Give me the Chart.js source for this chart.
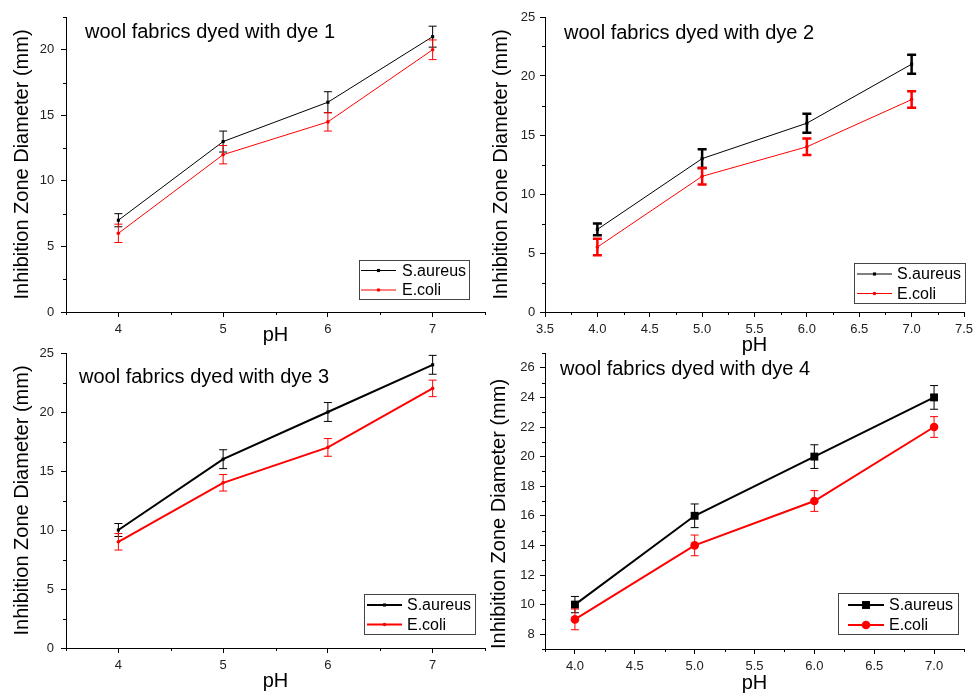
<!DOCTYPE html>
<html>
<head>
<meta charset="utf-8">
<script src="https://cdn.jsdelivr.net/npm/chart.js@4.4.1/dist/chart.umd.min.js"></script>
<style>
body { margin: 0; background: #fff; }
#wrap { position: relative; width: 974px; height: 693px; }
canvas { position: absolute; left: 0; top: 0; }
</style>
</head>
<body>
<div id="wrap">
<canvas id="c1" width="974" height="693"></canvas>
<canvas id="c2" width="974" height="693"></canvas>
<canvas id="c3" width="974" height="693"></canvas>
<canvas id="c4" width="974" height="693"></canvas>
</div>
<script>
var FONT = 'Arial, "Liberation Sans", sans-serif';

// data
var phValues = [4, 5, 6, 7];
var seriesNames = ["S.aureus", "E.coli"];
var panelTitles = ["wool fabrics dyed with dye 1", "wool fabrics dyed with dye 2",
                   "wool fabrics dyed with dye 3", "wool fabrics dyed with dye 4"];
var yTitle = "Inhibition Zone Diameter (mm)";
var xTitle = "pH";

var dye1Aureus = [7, 13, 16, 21];
var dye1AureusErr = [0.5, 0.8, 0.8, 0.8];
var dye1Coli = [6, 12, 14.5, 20];
var dye1ColiErr = [0.7, 0.7, 0.7, 0.75];

var dye2Aureus = [7, 13, 16, 21];
var dye2AureusErr = [0.5, 0.8, 0.8, 0.8];
var dye2Coli = [5.5, 11.5, 14, 18];
var dye2ColiErr = [0.7, 0.7, 0.7, 0.7];

var dye3Aureus = [10, 16, 20, 24];
var dye3AureusErr = [0.55, 0.8, 0.8, 0.8];
var dye3Coli = [9, 14, 17, 22];
var dye3ColiErr = [0.7, 0.7, 0.75, 0.7];

var dye4Aureus = [10, 16, 20, 24];
var dye4AureusErr = [0.55, 0.8, 0.8, 0.8];
var dye4Coli = [9, 14, 17, 22];
var dye4ColiErr = [0.7, 0.7, 0.7, 0.7];

// tick labels
var xTicksInt = [4, 5, 6, 7];
var xTicksHalf = [3.5, 4.0, 4.5, 5.0, 5.5, 6.0, 6.5, 7.0, 7.5];
var xTicksDye4 = [4.0, 4.5, 5.0, 5.5, 6.0, 6.5, 7.0];
var yTicksDye1 = [0, 5, 10, 15, 20];
var yTicks25 = [0, 5, 10, 15, 20, 25];
var yTicksDye4 = [8, 10, 12, 14, 16, 18, 20, 22, 24, 26];

var panels = [
  { id: "c1", title: panelTitles[0], area: [66, 17, 485, 312],
    xMin: 3.5, xMax: 7.5, xTicks: xTicksInt, xDec: 0, xMinor: 0.5,
    yMin: 0, yMax: 22.5, yTicks: yTicksDye1, yMinor: 2.5,
    aureus: dye1Aureus, aureusErr: dye1AureusErr, coli: dye1Coli, coliErr: dye1ColiErr,
    lineW: 1, errW: 1, cap: 4, sqR: 2.2, ciR: 1.8,
    titleAt: [85, 37.5], yTitleX: 22.8, yAlign: "center", phY: 335, yPad: 6.7, xPad: 5,
    legend: { box: [359, 260, 469, 299], line: [361, 396], text: 402, rows: [270.5, 290] } },
  { id: "c2", title: panelTitles[1], area: [545, 17, 964, 312],
    xMin: 3.5, xMax: 7.5, xTicks: xTicksHalf, xDec: 1, xMinor: 0.25,
    yMin: 0, yMax: 25, yTicks: yTicks25, yMinor: 2.5,
    aureus: dye2Aureus, aureusErr: dye2AureusErr, coli: dye2Coli, coliErr: dye2ColiErr,
    lineW: 1, errW: 2.5, cap: 4.5, sqR: 2.2, ciR: 1.8,
    titleAt: [564, 39], yTitleX: 501.7, yAlign: "center", phY: 345, yPad: 4.7, xPad: 5,
    legend: { box: [854, 263, 965, 303], line: [857, 892], text: 897, rows: [274, 293.5] } },
  { id: "c3", title: panelTitles[2], area: [66, 353, 485, 648],
    xMin: 3.5, xMax: 7.5, xTicks: xTicksInt, xDec: 0, xMinor: 0.5,
    yMin: 0, yMax: 25, yTicks: yTicks25, yMinor: 2.5,
    aureus: dye3Aureus, aureusErr: dye3AureusErr, coli: dye3Coli, coliErr: dye3ColiErr,
    lineW: 2, errW: 1, cap: 4, sqR: 2.2, ciR: 1.8,
    titleAt: [79, 382.5], yTitleX: 22.8, yAlign: "center", phY: 681.7, yPad: 7, xPad: 5,
    legend: { box: [364, 594, 475, 634], line: [367, 402], text: 407, rows: [605, 624.5] } },
  { id: "c4", title: panelTitles[3], area: [545, 353, 964, 649],
    xMin: 3.75, xMax: 7.25, xTicks: xTicksDye4, xDec: 1, xMinor: 0.25,
    yMin: 7, yMax: 27, yTicks: yTicksDye4, yMinor: 1,
    aureus: dye4Aureus, aureusErr: dye4AureusErr, coli: dye4Coli, coliErr: dye4ColiErr,
    lineW: 2, errW: 1, cap: 4, sqR: 5.6, ciR: 4.3,
    titleAt: [560, 375], yTitleX: 499.5, yAlign: "start", phY: 683.3, yPad: 5.3, xPad: 5,
    legend: { box: [838, 593, 958, 634], line: [848, 884], text: 889, rows: [605, 625] } }
];

function points(ys) {
  return phValues.map(function(x, i) { return { x: x, y: ys[i] }; });
}

// error bars drawn from the y scale
var errorBars = {
  id: "errorBars",
  afterDatasetsDraw: function(chart, args, opts) {
    var ctx = chart.ctx, ys = chart.scales.y;
    chart.data.datasets.forEach(function(ds, i) {
      var meta = chart.getDatasetMeta(i);
      ctx.save();
      ctx.strokeStyle = ds.borderColor;
      ctx.lineWidth = opts.width;
      meta.data.forEach(function(pt, j) {
        var v = ds.data[j].y, e = ds.errors[j];
        var top = ys.getPixelForValue(v + e), bot = ys.getPixelForValue(v - e);
        var x = pt.x;
        ctx.beginPath();
        ctx.moveTo(x, top); ctx.lineTo(x, bot);
        ctx.moveTo(x - opts.cap, top); ctx.lineTo(x + opts.cap, top);
        ctx.moveTo(x - opts.cap, bot); ctx.lineTo(x + opts.cap, bot);
        ctx.stroke();
      });
      ctx.restore();
    });
  }
};

// minor ticks, inner title and boxed legend
var decor = {
  id: "decor",
  afterDraw: function(chart, args, p) {
    var ctx = chart.ctx, xs = chart.scales.x, ys = chart.scales.y, a = chart.chartArea;
    ctx.save();
    ctx.strokeStyle = "#000";
    ctx.lineWidth = 1;
    ctx.beginPath();
    for (var v = p.xMin; v <= p.xMax + 1e-9; v += p.xMinor) {
      if (p.xTicks.some(function(t) { return Math.abs(t - v) < 1e-6; })) continue;
      var px = Math.round(xs.getPixelForValue(v)) + 0.5;
      ctx.moveTo(px, a.bottom); ctx.lineTo(px, a.bottom + 3);
    }
    for (var w = p.yMin; w <= p.yMax + 1e-9; w += p.yMinor) {
      if (p.yTicks.some(function(t) { return Math.abs(t - w) < 1e-6; })) continue;
      var py = Math.round(ys.getPixelForValue(w)) + 0.5;
      ctx.moveTo(a.left, py); ctx.lineTo(a.left - 3, py);
    }
    ctx.stroke();

    ctx.fillStyle = "#000";
    ctx.font = "20px " + FONT;
    ctx.textBaseline = "alphabetic";
    ctx.textAlign = "left";
    ctx.fillText(p.title, p.titleAt[0], p.titleAt[1]);

    var L = p.legend, b = L.box;
    ctx.strokeStyle = "#444";
    ctx.strokeRect(b[0] + 0.5, b[1] + 0.5, b[2] - b[0], b[3] - b[1]);
    ctx.font = "16px " + FONT;
    ctx.textBaseline = "middle";
    chart.data.datasets.forEach(function(ds, i) {
      var y = L.rows[i], mid = (L.line[0] + L.line[1]) / 2;
      ctx.strokeStyle = ds.borderColor;
      ctx.lineWidth = p.lineW;
      ctx.beginPath();
      ctx.moveTo(L.line[0], y); ctx.lineTo(L.line[1], y);
      ctx.stroke();
      ctx.fillStyle = ds.borderColor;
      if (i === 0) {
        var s = p.sqR * Math.SQRT1_2;
        ctx.fillRect(mid - s, y - s, 2 * s, 2 * s);
      } else {
        ctx.beginPath();
        ctx.arc(mid, y, p.ciR, 0, Math.PI * 2);
        ctx.fill();
      }
      ctx.fillStyle = "#000";
      ctx.fillText(ds.label, L.text, y + 1);
    });
    ctx.restore();
  }
};

function makePanel(p) {
  var a = p.area;
  new Chart(document.getElementById(p.id), {
    type: "line",
    data: {
      datasets: [{
        label: seriesNames[0],
        data: points(p.aureus),
        errors: p.aureusErr,
        borderColor: "#000000",
        backgroundColor: "#000000",
        borderWidth: p.lineW,
        pointStyle: "rect",
        pointRadius: p.sqR,
        pointBorderWidth: 0,
        pointBackgroundColor: "#000000",
        tension: 0
      }, {
        label: seriesNames[1],
        data: points(p.coli),
        errors: p.coliErr,
        borderColor: "#ff0000",
        backgroundColor: "#ff0000",
        borderWidth: p.lineW,
        pointStyle: "circle",
        pointRadius: p.ciR,
        pointBorderWidth: 0,
        pointBackgroundColor: "#ff0000",
        tension: 0
      }]
    },
    options: {
      responsive: false,
      animation: false,
      devicePixelRatio: 1,
      events: [],
      layout: { padding: { left: 0, top: a[1], right: 974 - a[2], bottom: 0 } },
      plugins: {
        legend: { display: false },
        tooltip: { enabled: false },
        errorBars: { width: p.errW, cap: p.cap },
        decor: p
      },
      scales: {
        x: {
          type: "linear",
          min: p.xMin,
          max: p.xMax,
          afterBuildTicks: function(s) { s.ticks = p.xTicks.map(function(v) { return { value: v }; }); },
          afterFit: function(s) { s.height = 693 - a[3]; s.paddingLeft = 0; s.paddingRight = 0; },
          ticks: {
            color: "#222",
            font: { size: 13, family: FONT },
            padding: p.xPad,
            maxRotation: 0,
            autoSkip: false,
            callback: function(v) { return Number(v).toFixed(p.xDec); }
          },
          grid: { display: true, drawOnChartArea: false, drawTicks: true, tickLength: 5, tickColor: "#000", color: "#000" },
          border: { display: true, color: "#000", width: 1 },
          title: {
            display: true, text: xTitle, color: "#000",
            font: { size: 20, family: FONT },
            padding: { top: 0, bottom: 693 - 12 - p.phY }
          }
        },
        y: {
          type: "linear",
          min: p.yMin,
          max: p.yMax,
          afterBuildTicks: function(s) { s.ticks = p.yTicks.map(function(v) { return { value: v }; }); },
          afterFit: function(s) { s.width = a[0]; s.paddingTop = 0; s.paddingBottom = 0; },
          ticks: {
            color: "#222",
            font: { size: 13, family: FONT },
            padding: p.yPad,
            autoSkip: false
          },
          grid: { display: true, drawOnChartArea: false, drawTicks: true, tickLength: 5, tickColor: "#000", color: "#000" },
          border: { display: true, color: "#000", width: 1 },
          title: {
            display: true, text: yTitle, color: "#000", align: p.yAlign,
            font: { size: 20, family: FONT },
            padding: { top: p.yTitleX - 12, bottom: 0 }
          }
        }
      }
    },
    plugins: [errorBars, decor]
  });
}

panels.forEach(makePanel);
</script>
</body>
</html>
